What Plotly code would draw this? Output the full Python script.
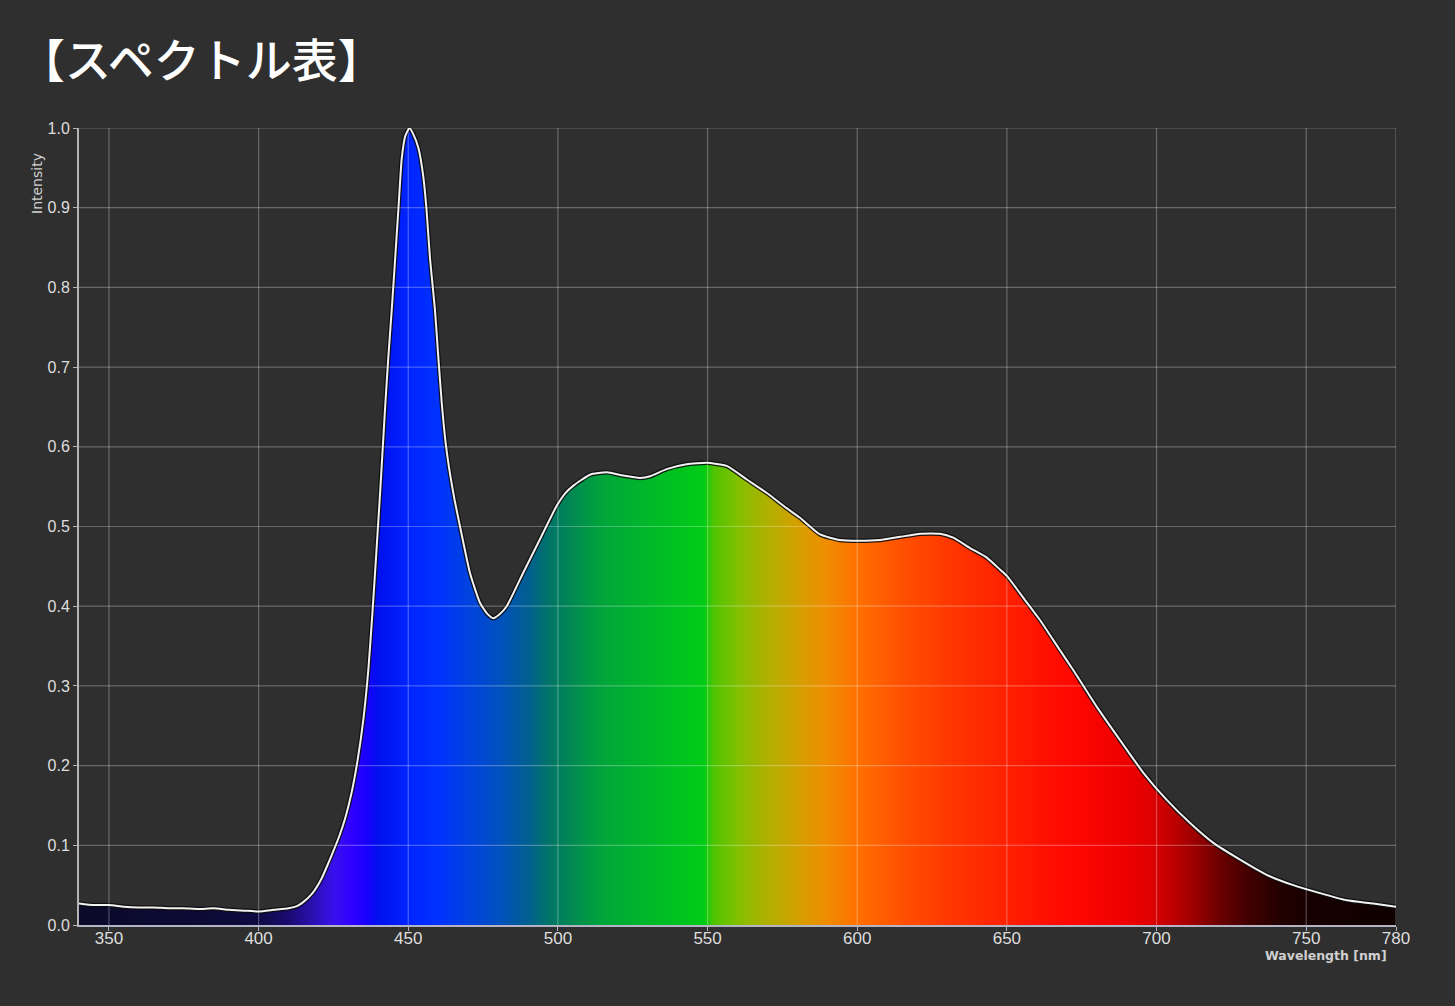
import plotly.graph_objects as go

# ---- data ----
wavelength = [340, 345, 350, 355, 360, 365, 370, 375, 380, 385, 390, 395, 400, 405, 410,
              413, 415, 418, 421, 423, 425, 427, 429, 431, 433, 435, 436.7, 438, 439.3,
              440.8, 442.2, 443.3, 444.5, 445.6, 446.7, 447.8, 449, 450.4, 451.6, 453.4, 455,
              456.1, 457.3, 458.9, 460, 461.2, 462.5, 464, 465.5, 467.3, 470.6, 474, 476.5,
              478.4, 480.5, 482.9, 488.4, 494, 499.6, 502.5, 505.1, 510.7, 516.3, 521.8, 527.4,
              530.8, 536.3, 543, 549.7, 556.4, 563.1, 569.8, 576.4, 580.9, 587.6, 594.2, 600.4,
              607.6, 614.3, 621, 627.7, 632.1, 637.7, 643.3, 647.7, 650, 656, 661, 667.7, 672.5,
              680, 687.8, 695.6, 703.4, 711.2, 719, 727.9, 736.8, 745.7, 754.6, 763.5, 772.4, 780]
intensity = [0.027, 0.025, 0.025, 0.023, 0.022, 0.022, 0.021, 0.021, 0.020, 0.021, 0.019, 0.018,
             0.017, 0.019, 0.021, 0.024, 0.029, 0.040, 0.058, 0.075, 0.093, 0.112, 0.135, 0.165,
             0.205, 0.258, 0.322, 0.390, 0.465, 0.555, 0.645, 0.710, 0.773, 0.835, 0.898, 0.961,
             0.990, 1.000, 0.993, 0.975, 0.940, 0.898, 0.835, 0.773, 0.715, 0.655, 0.605, 0.565,
             0.533, 0.500, 0.442, 0.404, 0.390, 0.385, 0.390, 0.400, 0.442, 0.484, 0.526, 0.542,
             0.551, 0.565, 0.568, 0.564, 0.561, 0.563, 0.572, 0.578, 0.580, 0.576, 0.559, 0.542,
             0.523, 0.511, 0.490, 0.483, 0.482, 0.483, 0.487, 0.491, 0.491, 0.486, 0.473, 0.461,
             0.446, 0.438, 0.408, 0.383, 0.345, 0.318, 0.274, 0.232, 0.191, 0.157, 0.128, 0.103,
             0.082, 0.063, 0.050, 0.040, 0.031, 0.027, 0.023]

x_ticks = [350, 400, 450, 500, 550, 600, 650, 700, 750, 780]
x_tick_labels = ["350", "400", "450", "500", "550", "600", "650", "700", "750", "780"]
y_ticks = [0.0, 0.1, 0.2, 0.3, 0.4, 0.5, 0.6, 0.7, 0.8, 0.9, 1.0]
y_tick_labels = ["0.0", "0.1", "0.2", "0.3", "0.4", "0.5", "0.6", "0.7", "0.8", "0.9", "1.0"]

title_text = "【スペクトル表】"
x_title = "Wavelength [nm]"
y_title = "Intensity"

# ---- style: spectrum gradient stops (nm, colour) ----
X_MIN, X_MAX = 340, 780
spectrum_stops = [
    (340, "#0b0a2a"), (390, "#0d0b38"), (400, "#100a44"), (410, "#1a0a70"),
    (418, "#2a10b0"), (425, "#3810ec"), (431, "#3000ff"), (436, "#1800ff"),
    (440, "#0010ee"), (450, "#0024ff"), (460, "#0032ff"), (470, "#0042e0"),
    (480, "#0050c0"), (490, "#005f90"), (497, "#007468"), (505, "#008a50"),
    (515, "#00a53a"), (530, "#00b82a"), (545, "#00c81a"), (549, "#00cc14"),
    (552, "#50c400"), (560, "#80c000"), (570, "#b0b000"), (580, "#d4a000"),
    (590, "#f08c00"), (600, "#ff7000"), (615, "#ff5000"), (630, "#ff3800"),
    (650, "#ff2000"), (670, "#ff0800"), (688, "#f00000"), (698, "#e00000"),
    (705, "#c00000"), (713, "#9a0000"), (720, "#700000"), (731, "#400000"),
    (742, "#220000"), (753, "#160000"), (780, "#0f0000"),
]
colorscale = [[(nm - X_MIN) / (X_MAX - X_MIN), c] for nm, c in spectrum_stops]

BG = "#2f2f2f"
TICK_COLOR = "#dedede"
GRID = "rgba(255,255,255,0.28)"

fig = go.Figure()

# filled spectrum with dark edge
fig.add_trace(go.Scatter(
    x=wavelength, y=intensity, mode="lines",
    line=dict(color="rgba(12,12,12,0.9)", width=4.5, shape="spline", smoothing=0.5),
    fill="tozeroy",
    fillgradient=dict(type="horizontal", colorscale=colorscale, start=X_MIN, stop=X_MAX),
    hoverinfo="skip", showlegend=False,
))
# white outline
fig.add_trace(go.Scatter(
    x=wavelength, y=intensity, mode="lines",
    line=dict(color="#f2f2f2", width=2, shape="spline", smoothing=0.5),
    showlegend=False,
))

# grid lines drawn above the fill (as in the reference)
for xv in x_ticks:
    fig.add_vline(x=xv, line=dict(color=GRID, width=1.2), layer="above")
for yv in y_ticks[1:]:
    fig.add_hline(y=yv, line=dict(color=GRID, width=1.2), layer="above")

fig.update_layout(
    width=1455, height=1006,
    paper_bgcolor=BG, plot_bgcolor=BG,
    margin=dict(l=79, r=59, t=128, b=81),
    title=dict(
        text=title_text, x=19 / 1455, xanchor="left", xref="container",
        y=1 - 61 / 1006, yanchor="middle", yref="container",
        font=dict(family="Noto Sans CJK JP", size=46, color="#ffffff", weight=500),
    ),
    xaxis=dict(
        range=[X_MIN, X_MAX], tickvals=x_ticks, ticktext=x_tick_labels,
        showgrid=False, zeroline=False,
        showline=True, linecolor="#b4b4c4", linewidth=2,
        ticks="outside", ticklen=4, tickcolor="#b4b4c4", tickwidth=1,
        ticklabelstandoff=-7,
        tickfont=dict(family="Liberation Sans", size=17, color=TICK_COLOR),
        fixedrange=True,
    ),
    yaxis=dict(
        range=[0, 1.0], tickvals=y_ticks, ticktext=y_tick_labels,
        showgrid=False, zeroline=False,
        showline=True, linecolor="#b4b4b4", linewidth=2,
        ticks="outside", ticklen=4, tickcolor="#b4b4b4", tickwidth=1,
        tickfont=dict(family="Liberation Sans", size=16, color=TICK_COLOR),
        fixedrange=True,
    ),
    annotations=[
        dict(text=y_title, xref="paper", yref="paper", x=(37 - 79) / 1317, y=(925 - 183) / 797,
             xanchor="center", yanchor="middle", textangle=-90, showarrow=False,
             font=dict(family="DejaVu Sans", size=14, color="#cfcfcf")),
        dict(text="<b>" + x_title + "</b>", xref="paper", yref="paper", x=(1389 - 79) / 1317,
             y=(925 - 956) / 797, xanchor="right", yanchor="middle", showarrow=False,
             font=dict(family="DejaVu Sans", size=12.5, color="#cfcfcf")),
    ],
)

fig.write_html("out.html", config={"displayModeBar": False},
               post_script="document.body.style.margin='0';")
